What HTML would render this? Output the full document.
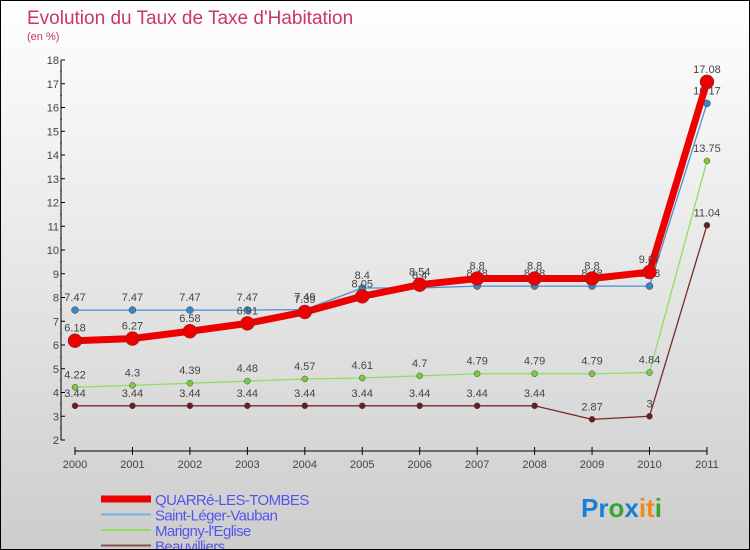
<!DOCTYPE html>
<html><head><meta charset="utf-8"><style>
html,body{margin:0;padding:0}
body{width:750px;height:550px;overflow:hidden;font-family:"Liberation Sans",sans-serif}
#wrap{position:relative;width:748px;height:548px;border:1px solid #000;background:linear-gradient(#ffffff,#cdcdcd)}
</style></head><body>
<div id="wrap">
<svg id="chart" width="748" height="548" style="position:absolute;left:0;top:0">
<text x="26" y="23" font-size="19" fill="#c8366a">Evolution du Taux de Taxe d'Habitation</text>
<text x="26" y="39" font-size="11" fill="#c8366a">(en %)</text>
<g id="axes"></g><g id="series"></g><g id="legend"></g>
<text x="580" y="516" font-size="26" font-weight="bold"><tspan fill="#1a7fd4">Pr</tspan><tspan fill="#3aa52e">o</tspan><tspan fill="#1a7fd4">x</tspan><tspan fill="#f08a1c">it</tspan><tspan fill="#3aa52e">i</tspan></text>
</svg>
</div>
<script>
const years=["2000","2001","2002","2003","2004","2005","2006","2007","2008","2009","2010","2011"];
const yTicks=[2,3,4,5,6,7,8,9,10,11,12,13,14,15,16,17,18];
const quarre=[6.18,6.27,6.58,6.91,7.39,8.05,8.54,8.8,8.8,8.8,9.07,17.08];
const saintLeger=[7.47,7.47,7.47,7.47,7.49,8.4,8.4,8.48,8.48,8.48,8.48,16.17];
const marigny=[4.22,4.3,4.39,4.48,4.57,4.61,4.7,4.79,4.79,4.79,4.84,13.75];
const beauvilliers=[3.44,3.44,3.44,3.44,3.44,3.44,3.44,3.44,3.44,2.87,3,11.04];
const names=["QUARRé-LES-TOMBES","Saint-Léger-Vauban","Marigny-l'Eglise","Beauvilliers"];
const NS="http://www.w3.org/2000/svg";
const X=i=>74+i*57.45, Y=v=>439-(v-2)*23.75;
function mk(t,a,p){const e=document.createElementNS(NS,t);for(const k in a)e.setAttribute(k,a[k]);p.appendChild(e);return e;}
const ax=document.getElementById('axes');
let yl=mk('line',{x1:60,y1:Y(18),x2:60,y2:Y(2),stroke:'#000'},ax);


yTicks.forEach(t=>{
 mk('line',{x1:60,x2:64,y1:Y(t),y2:Y(t),stroke:'#000'},ax);
 if(t<18)mk('line',{x1:59,x2:61,y1:Y(t+0.5),y2:Y(t+0.5),stroke:'#e00'},ax);
 const tx=mk('text',{x:58,y:Y(t)+4,'font-size':11,fill:'#444','text-anchor':'end'},ax);tx.textContent=t;
 
 
});
let xl=mk('line',{x1:X(0),x2:X(11),y1:450,y2:450,stroke:'#000'},ax);


years.forEach((y,i)=>{
 mk('line',{x1:X(i),x2:X(i),y1:446,y2:454,stroke:'#000'},ax);
 const tx=mk('text',{x:X(i),y:467,'font-size':11,fill:'#444','text-anchor':'middle'},ax);tx.textContent=y;
 
 
});
const sg=document.getElementById('series');
const defs=[[beauvilliers,'#7a2a2a',1.3,3,'#6b1d1d','beauvilliers'],[marigny,'#90dd60',1.3,3,'#7acc3c','marigny'],[saintLeger,'#4a90d0',1.3,3.5,'#3a85c8','saint-leger'],[quarre,'#ee0000',7,7,'#ee0000','quarre']];
defs.forEach(([d,c,w,r,fc,n])=>{
 const g=mk('g',{},sg);
 
 
 mk('polyline',{points:d.map((v,i)=>X(i)+','+Y(v)).join(' '),fill:'none',stroke:c,'stroke-width':w,'stroke-linejoin':'round'},g);
 d.forEach((v,i)=>{
  const p=mk('circle',{cx:X(i),cy:Y(v),r:r,fill:fc,stroke:'#444','stroke-width':0.5},g);
  
  
  const t=mk('text',{x:X(i),y:Y(v)-9,'font-size':11,fill:'#444','text-anchor':'middle'},g);t.textContent=v;
  
  
 });
});
const lg=document.getElementById('legend');
const lc=[['#ee0000',7],['#7aaee0',2],['#90dd60',2],['#8b5050',2]];
names.forEach((n,i)=>{
 const y=498+i*15.5;
 const g=mk('g',{},lg);
 
 
 mk('line',{x1:100,x2:150,y1:y,y2:y,stroke:lc[i][0],'stroke-width':lc[i][1]},g);
 const t=mk('text',{x:154,y:y+6,'font-size':15,fill:'#5555ee','letter-spacing':'-0.6'},g);t.textContent=n;
});
</script>
</body></html>
